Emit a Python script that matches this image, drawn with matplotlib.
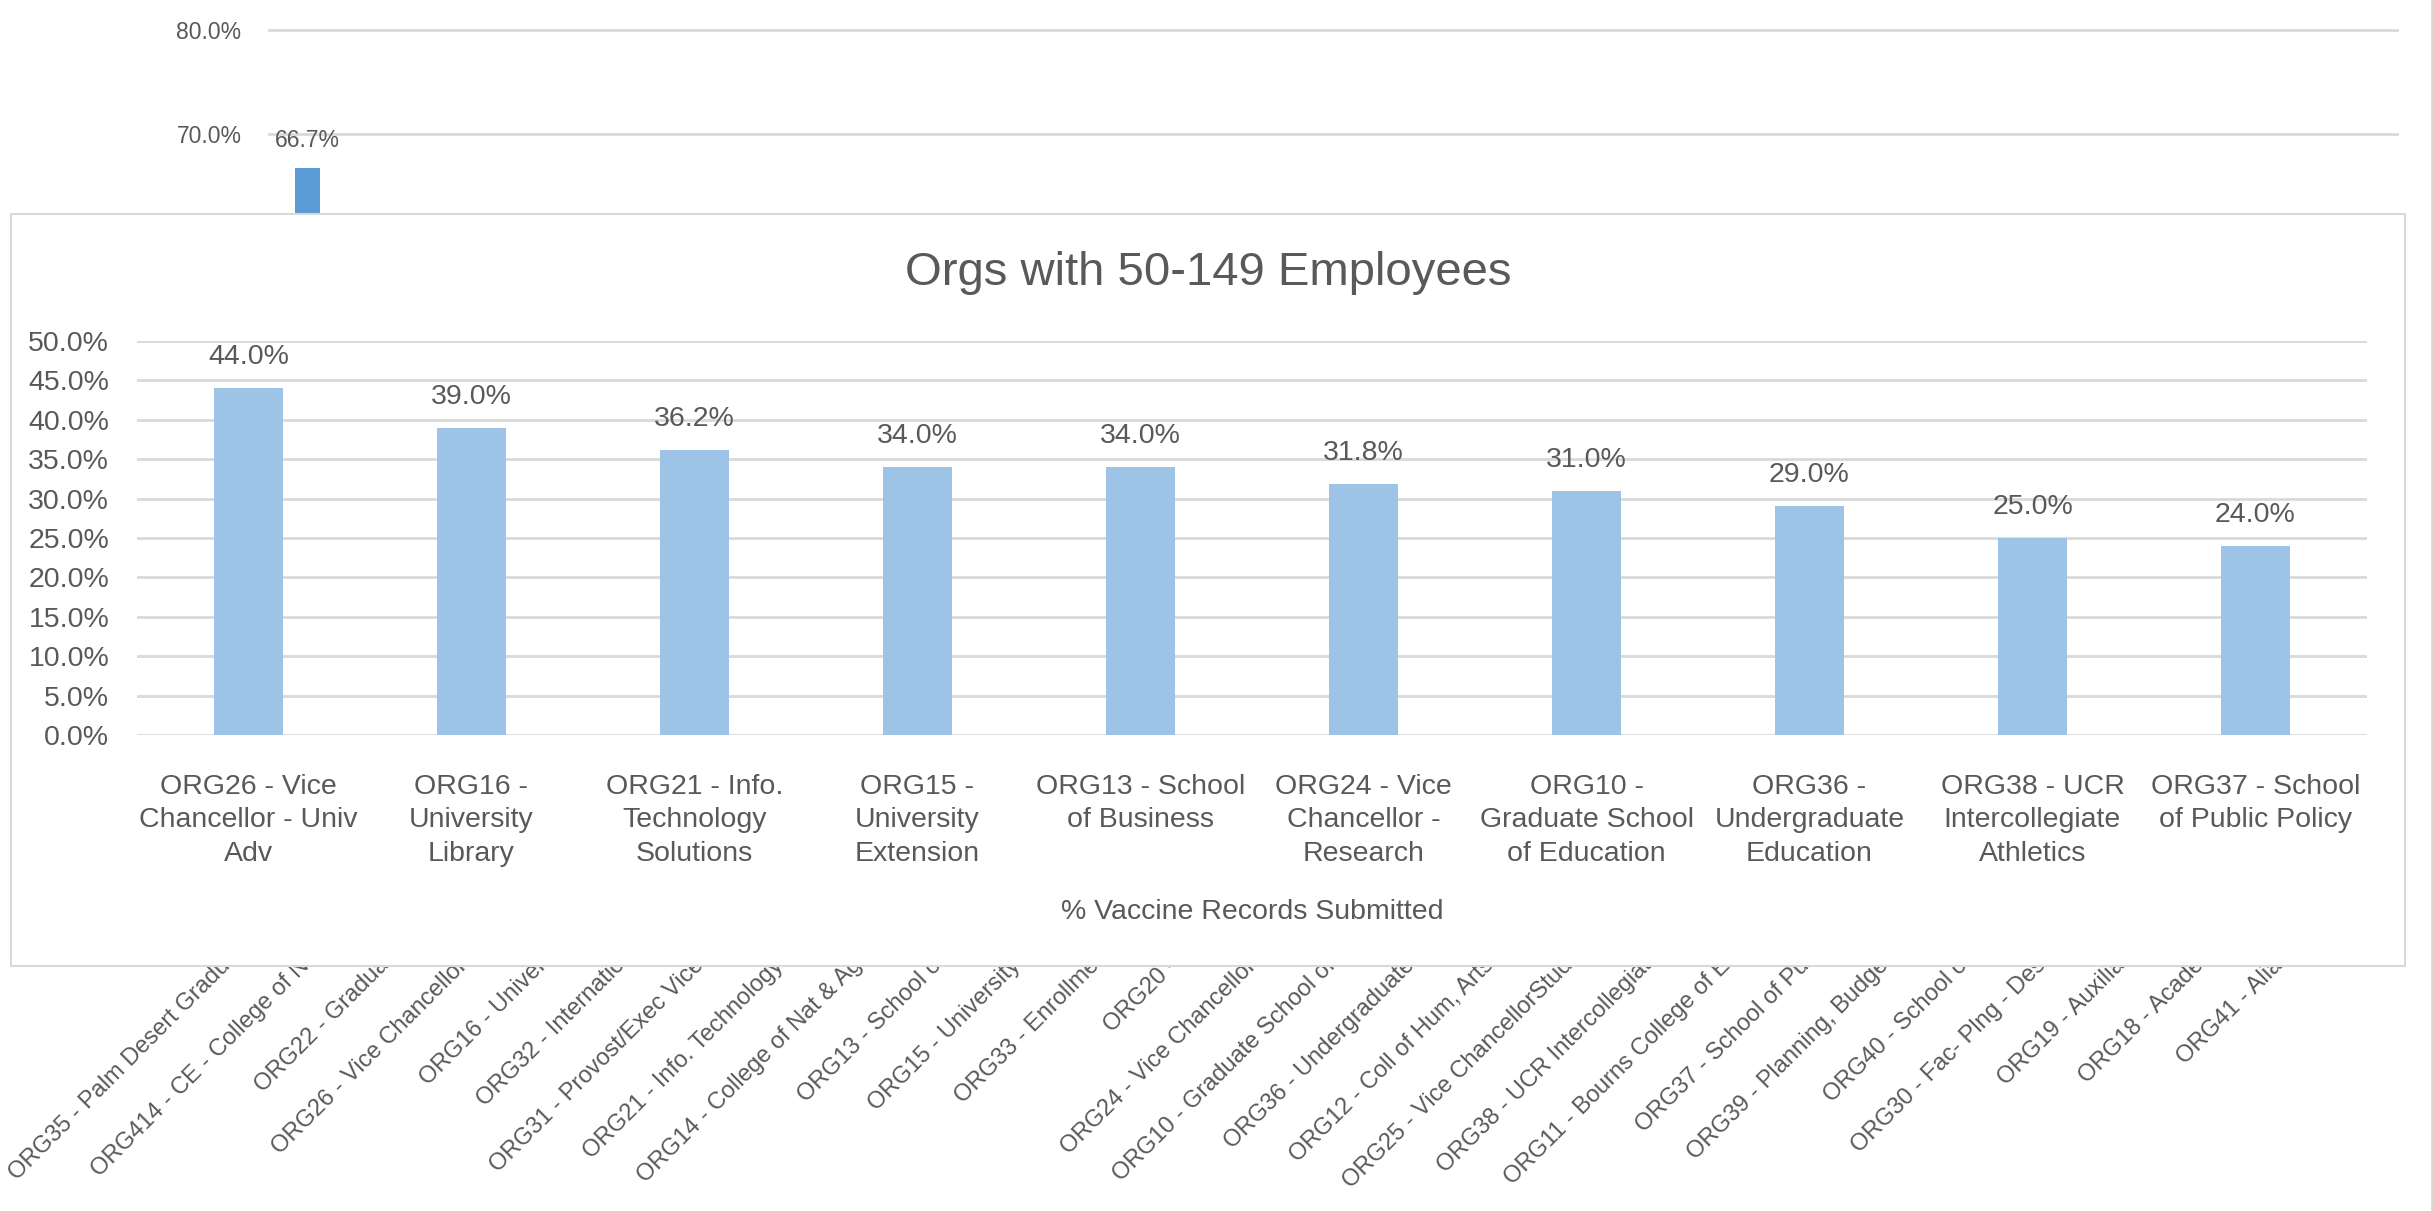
import numpy as np
import matplotlib
matplotlib.use("Agg")
import matplotlib.pyplot as plt
from matplotlib.lines import Line2D
from matplotlib.transforms import ScaledTranslation

plt.rcParams['font.family'] = ['Liberation Sans', 'DejaVu Sans']

# background chart (all orgs) - only the visible part of each label is known
bg_labels = ["ORG35 - Palm Desert Gradu", "ORG414 - CE - College of N", "ORG22 - Gradua",
             "ORG26 - Vice Chancellor", "ORG16 - Univer", "ORG32 - Internatio",
             "ORG31 - Provost/Exec Vice", "ORG21 - Info. Technology", "ORG14 - College of Nat & Ag",
             "ORG13 - School o", "ORG15 - University", "ORG33 - Enrollme", "ORG20 -",
             "ORG24 - Vice Chancellor", "ORG10 - Graduate School of", "ORG36 - Undergraduate",
             "ORG12 - Coll of Hum, Arts", "ORG25 - Vice ChancellorStud", "ORG38 - UCR Intercollegiat",
             "ORG11 - Bourns College of E", "ORG37 - School of Pu", "ORG39 - Planning, Budge",
             "ORG40 - School o", "ORG30 - Fac- Plng - Des", "ORG19 - Auxilia",
             "ORG18 - Acade", "ORG41 - Alia"]
# only the first bar shows above the inset; the rest are hidden (unknown)
bg_values = [66.7] + [np.nan] * 26
bg_ticks = [70, 80]  # the lower gridlines sit behind the inset

# inset chart: orgs with 50-149 employees
orgs = ["ORG26 - Vice\nChancellor - Univ\nAdv", "ORG16 -\nUniversity\nLibrary",
        "ORG21 - Info.\nTechnology\nSolutions", "ORG15 -\nUniversity\nExtension",
        "ORG13 - School\nof Business", "ORG24 - Vice\nChancellor -\nResearch",
        "ORG10 -\nGraduate School\nof Education", "ORG36 -\nUndergraduate\nEducation",
        "ORG38 - UCR\nIntercollegiate\nAthletics", "ORG37 - School\nof Public Policy"]
pct = [44.0, 39.0, 36.2, 34.0, 34.0, 31.8, 31.0, 29.0, 25.0, 24.0]

W, H = 2433, 1211
TXT = '#595959'
GRID = '#D9D9D9'


def rect(l, t, r, b):
    return [l / W, 1 - b / H, (r - l) / W, (b - t) / H]


fig = plt.figure(figsize=(W / 100, H / 100), dpi=100)

# ---- background chart
bg = fig.add_axes(rect(268, 0, 2399, 858))
x_bg = np.arange(len(bg_labels))
vals = np.array(bg_values)
ok = ~np.isnan(vals)
bars = bg.bar(x_bg[ok], vals[ok], width=0.32, color='#5B9BD5', zorder=2)
bg.bar_label(bars, fmt='%.1f%%', padding=11, color=TXT, fontsize=16.5)
bg.set_xlim(-0.5, len(bg_labels) - 0.5)
bg.set_ylim(0, 82.9)
bg.set_yticks(bg_ticks)
bg.set_yticklabels(['%.1f%%' % v for v in bg_ticks])
bg.grid(axis='y', color=GRID, linewidth=2)
bg.set_axisbelow(True)
for s in bg.spines.values():
    s.set_visible(False)
bg.tick_params(axis='y', length=0, pad=19, labelsize=16.5, labelcolor=TXT)
bg.set_xticks(x_bg)
bg.set_xticklabels(bg_labels, rotation=45, ha='right', va='center', rotation_mode='anchor')
bg.tick_params(axis='x', length=0, pad=75, labelsize=17, labelcolor=TXT)
shift = ScaledTranslation(-80 / 100, 0, fig.dpi_scale_trans)
for lab in bg.get_xticklabels():
    lab.set_transform(lab.get_transform() + shift)

# outer chart border on the right edge
fig.add_artist(Line2D([0.9994, 0.9994], [0, 1], color=GRID, linewidth=2))

# ---- inset chart frame
box = fig.add_axes(rect(11, 214, 2405, 966))
box.set_xticks([])
box.set_yticks([])
box.set_facecolor('white')
for s in box.spines.values():
    s.set_color(GRID)
    s.set_linewidth(1.5)
box.text(0.5, (966 - 273) / (966 - 214), "Orgs with 50-149 Employees", transform=box.transAxes,
         ha='center', va='center', fontsize=34, color=TXT)

# ---- inset chart
ax = fig.add_axes(rect(137, 341, 2367, 735))
ax.set_facecolor('none')
x = np.arange(len(orgs))
b2 = ax.bar(x, pct, width=0.31, color='#9DC3E6', zorder=2)
ax.bar_label(b2, fmt='%.1f%%', padding=13, color=TXT, fontsize=20.5)
ax.set_xlim(-0.5, len(orgs) - 0.5)
ax.set_ylim(0, 50)
ax.set_yticks(np.arange(0, 51, 5))
ax.set_yticklabels(['%.1f%%' % v for v in np.arange(0, 51, 5)])
ax.grid(axis='y', color=GRID, linewidth=2)
ax.set_axisbelow(True)
for s in ax.spines.values():
    s.set_visible(False)
ax.tick_params(axis='y', length=0, pad=20, labelsize=20.5, labelcolor=TXT)
ax.set_xticks(x)
ax.set_xticklabels(orgs, linespacing=1.38)
ax.tick_params(axis='x', length=0, pad=28, labelsize=20.5, labelcolor=TXT)
ax.set_xlabel('% Vaccine Records Submitted', fontsize=20.5, color=TXT)
ax.xaxis.set_label_coords(0.5, -(912 - 735) / (735 - 341))
ax.xaxis.label.set_va('center')

fig.savefig('out.png', dpi=100)
